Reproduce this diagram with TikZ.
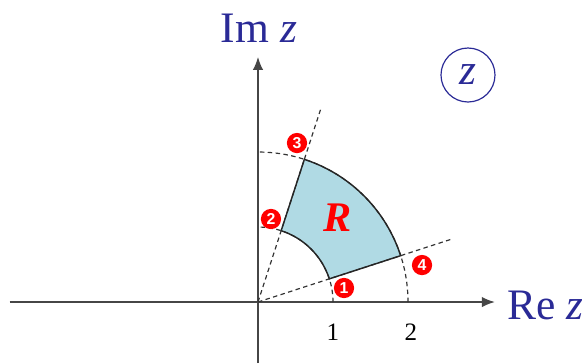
\documentclass[tikz,border=0pt]{standalone}
\usepackage{fontspec}
\setmainfont{Liberation Serif}
\newfontfamily\dotfont{Liberation Sans}
\usepackage{xcolor}
\definecolor{zblue}{RGB}{42,42,150}
\definecolor{regionfill}{RGB}{176,218,228}
\definecolor{axisgray}{RGB}{70,70,70}
\usetikzlibrary{arrows.meta,positioning,calc}

\begin{document}
\begin{tikzpicture}[
      axisline/.style={draw=axisgray,line width=0.7pt,-{Latex[length=5pt,width=4pt]}},
      guide/.style={draw=black!80,line width=0.45pt,dash pattern=on 1.7pt off 1.3pt},
      lbl/.style={text=zblue,font=\fontsize{16.5}{18}\selectfont,inner sep=0pt},
      numdot/.style={circle,fill=red,text=white,inner sep=0pt,minimum size=0.27cm,font=\dotfont\bfseries\fontsize{6}{7}\selectfont},
      tick/.style={font=\fontsize{9.5}{11}\selectfont,inner sep=0pt}
    ]
      \useasboundingbox (-3.44,-0.813) rectangle (4.32,4.027);
      % Axes
      \coordinate (O) at (0,0);
      \coordinate (xl) at (-3.31,0);
      \coordinate (xr) at (3.16,0);
      \coordinate (yb) at (0,-0.813);
      \coordinate (yt) at (0,3.27);
      \draw[axisline] (xl) -- (xr);
      \draw[axisline] (yb) -- (yt);
      \node[lbl,anchor=base] (imz) at (0.013,3.467) {Im \textit{z}};
      \node[lbl,anchor=base west] (rez) at (3.32,-0.231) {Re \textit{z}};
      \node[lbl,circle,draw=zblue,line width=0.45pt,minimum size=0.72cm] (plane) at (2.8,3.027) {\textit{z}};
      % Region R
      \coordinate (c1) at (18:1);
      \coordinate (c4) at (18:2);
      \coordinate (c3) at (72:2);
      \coordinate (c2) at (72:1);
      \fill[regionfill] (c1) -- (c4) arc[start angle=18,end angle=72,radius=2]
        -- (c2) arc[start angle=72,end angle=18,radius=1] -- cycle;
      % Dashed guides
      \coordinate (a1) at (1,0);
      \coordinate (a2) at (2,0);
      \coordinate (r1) at (18:2.7);
      \coordinate (r2) at (72:2.7);
      \draw[guide] (a1) arc[start angle=0,end angle=90,radius=1];
      \draw[guide] (a2) arc[start angle=0,end angle=90,radius=2];
      \draw[guide] (O) -- (r1);
      \draw[guide] (O) -- (r2);
      % Boundary
      \draw[black!85,line width=0.55pt] (c1) -- (c4) arc[start angle=18,end angle=72,radius=2]
        -- (c2) arc[start angle=72,end angle=18,radius=1] -- cycle;
      \node[text=red,font=\fontsize{16}{18}\selectfont\bfseries\itshape] (R) at (1.067,1.12) {R};
      % Corner numbers
      \node[numdot] (n1) at (1.147,0.187) {1};
      \node[numdot] (n2) at (0.173,1.107) {2};
      \node[numdot] (n3) at (0.52,2.12) {3};
      \node[numdot] (n4) at (2.187,0.493) {4};
      % Ticks
      \node[tick] (t1) at (1.0,-0.4) {1};
      \node[tick] (t2) at (2.04,-0.4) {2};
    \end{tikzpicture}
\end{document}
